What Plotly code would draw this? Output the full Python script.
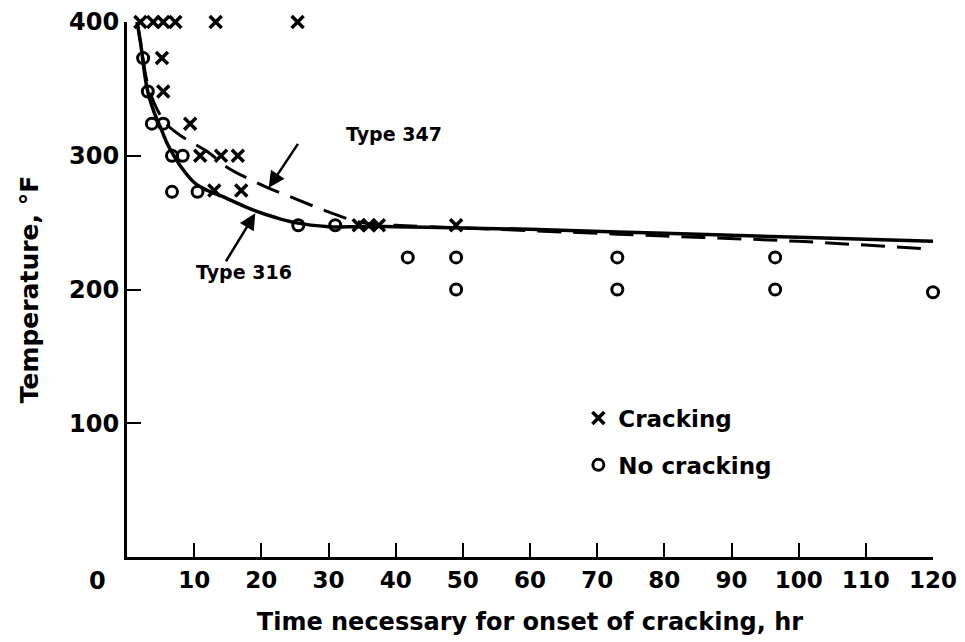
import plotly.graph_objects as go

# Cracking (x) observations: time [hr], temperature [F]
crack_time = [2, 3.9, 5.4, 7.2, 13.2, 25.4, 5.2, 5.4, 9.4, 10.9, 14, 16.5, 13, 17, 34.5, 36, 37.5, 49]
crack_temp = [400, 400, 400, 400, 400, 400, 373, 348, 324, 300, 300, 300, 274, 274, 248, 248, 248, 248]

# No-cracking (o) observations
nocrack_time = [2.4, 3.1, 3.7, 5.4, 6.7, 8.3, 6.7, 10.5, 25.5, 31, 41.8, 49, 73, 96.5, 49, 73, 96.5, 120]
nocrack_temp = [373, 348, 324, 324, 300, 300, 273, 273, 248, 248, 224, 224, 224, 224, 200, 200, 200, 198]

# Type 316 curve (solid)
t316_time = [1.5, 2, 3, 4, 5, 6, 7, 8, 10, 12, 14, 18, 22, 25, 30, 35, 40, 50, 60, 80, 100, 120]
t316_temp = [400, 385, 350, 333, 321, 309, 300, 292, 280, 274, 270, 261, 254, 250, 247, 247, 247, 246, 245, 242, 239, 236]

# Type 347 curve (dashed)
t347_time = [1.5, 2, 3, 4, 5, 6, 8, 10, 12, 15, 18, 21, 25, 30, 35, 40, 50, 60, 80, 100, 120]
t347_temp = [400, 385, 355, 340, 330, 323, 315, 309, 303, 291, 283, 276, 268, 258, 250, 248, 246, 244, 240, 236, 230]

x_ticks = [10, 20, 30, 40, 50, 60, 70, 80, 90, 100, 110, 120]
y_ticks = [100, 200, 300, 400]

FONT = "DejaVu Sans"
INK = "black"

fig = go.Figure()

fig.add_trace(go.Scatter(
    x=t316_time, y=t316_temp, mode="lines", line=dict(color=INK, width=3.5, shape="spline"),
    showlegend=False, cliponaxis=False,
))
fig.add_trace(go.Scatter(
    x=t347_time, y=t347_temp, mode="lines",
    line=dict(color=INK, width=3, dash="24px,12px", shape="spline"),
    showlegend=False, cliponaxis=False,
))
fig.add_trace(go.Scatter(
    x=crack_time, y=crack_temp, mode="markers", name="Cracking", legendgroup="a",
    marker=dict(symbol="x-thin", size=12, line=dict(color=INK, width=3.5)),
    cliponaxis=False,
))
fig.add_trace(go.Scatter(
    x=nocrack_time, y=nocrack_temp, mode="markers", name="No cracking", legendgroup="b",
    marker=dict(symbol="circle-open", size=11, color=INK, line=dict(width=3)),
    cliponaxis=False,
))

fig.add_annotation(
    x=21.1, y=276, ax=25.6, ay=310, xref="x", yref="y", axref="x", ayref="y",
    text="", showarrow=True, arrowhead=2, arrowsize=1.3, arrowwidth=2.5, arrowcolor=INK,
)
fig.add_annotation(x=32.3, y=316, text="Type 347", showarrow=False, xanchor="left",
                   font=dict(family=FONT, size=19, color=INK, weight="bold"))
fig.add_annotation(
    x=19.1, y=257, ax=14.6, ay=220, xref="x", yref="y", axref="x", ayref="y",
    text="", showarrow=True, arrowhead=2, arrowsize=1.3, arrowwidth=2.5, arrowcolor=INK,
)
fig.add_annotation(x=10, y=213, text="Type 316", showarrow=False, xanchor="left",
                   font=dict(family=FONT, size=19, color=INK, weight="bold"))
fig.add_annotation(x=0, y=0, xref="x", yref="paper", text="0", showarrow=False,
                   xshift=-30, yshift=-8, yanchor="top",
                   font=dict(family=FONT, size=24, color=INK, weight="bold"))

fig.update_xaxes(
    range=[0, 120], tickvals=x_ticks, ticks="inside", ticklen=14, tickwidth=2,
    tickcolor=INK, showline=True, linewidth=3, linecolor=INK, showgrid=False,
    zeroline=False, automargin=False, tickfont=dict(family=FONT, size=23, color=INK, weight="bold"),
    title=dict(text="Time necessary for onset of cracking, hr", standoff=22,
               font=dict(family=FONT, size=24, color=INK, weight="bold")),
)
fig.update_yaxes(
    range=[0, 400], tickvals=y_ticks, ticks="inside", ticklen=14, tickwidth=2,
    tickcolor=INK, showline=True, linewidth=3, linecolor=INK, showgrid=False,
    zeroline=False, automargin=False, tickfont=dict(family=FONT, size=24, color=INK, weight="bold"),
    title=dict(text="Temperature, °F", standoff=24,
               font=dict(family=FONT, size=25, color=INK, weight="bold")),
)

# page body adds an 8px margin, so the figure is sized to fill the rest of the window
fig.update_layout(
    width=957, height=634,
    margin=dict(l=119, r=32, t=14, b=85),
    plot_bgcolor="white", paper_bgcolor="white",
    legend=dict(x=0.56, y=0.3, xanchor="left", yanchor="top", tracegroupgap=14,
                font=dict(family=FONT, size=23, color=INK, weight="bold"),
                bgcolor="rgba(0,0,0,0)"),
)

fig.write_html("out.html")
